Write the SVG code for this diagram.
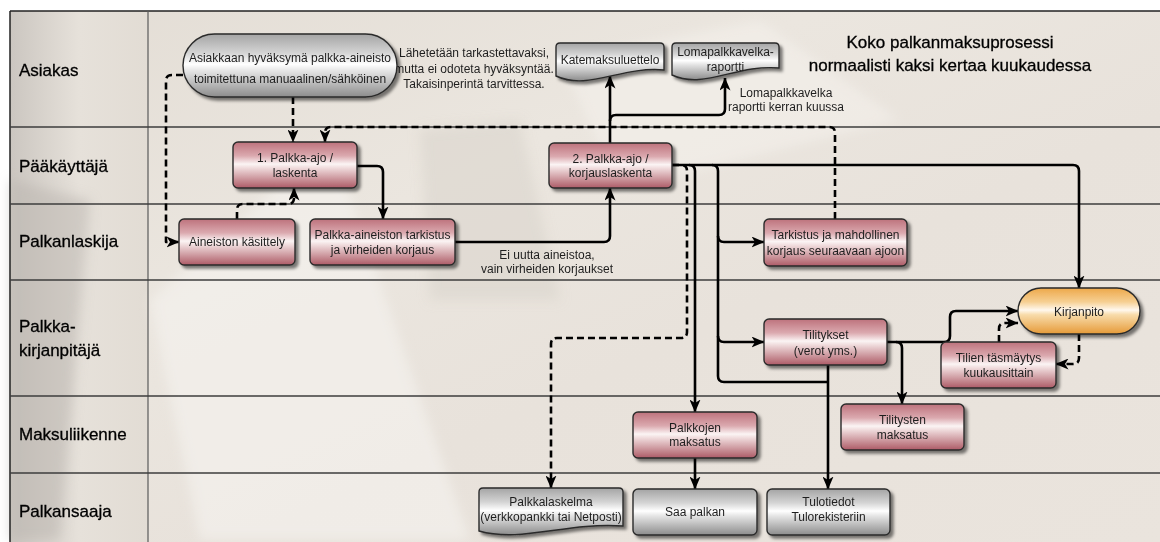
<svg xmlns="http://www.w3.org/2000/svg" width="1160" height="542" viewBox="0 0 1160 542">
  <defs>
    <style>
      .lane-label { font-family: "Liberation Sans", Arial, sans-serif; font-size: 17px; fill: #000; stroke: #000; stroke-width: 0.3; }
      .title { font-family: "Liberation Sans", Arial, sans-serif; font-size: 17px; fill: #000; stroke: #000; stroke-width: 0.3; text-anchor: middle; }
      .t { font-family: "Liberation Sans", Arial, sans-serif; font-size: 12px; fill: #1e1e1e; text-anchor: middle; }
      .note { font-family: "Liberation Sans", Arial, sans-serif; font-size: 12px; fill: #1e1e1e; text-anchor: middle; }
      .pink { fill: url(#pinkG); stroke: #2a2a2a; stroke-width: 1.4; filter: url(#shadow); }
      .grey { fill: url(#greyG); stroke: #2a2a2a; stroke-width: 1.4; filter: url(#shadow); }
      .orange { fill: url(#orangeG); stroke: #2a2a2a; stroke-width: 1.4; filter: url(#shadow); }
      .lane-line { stroke: #3c3c3c; stroke-width: 1.4; }
      .conn { fill: none; stroke: #000; stroke-width: 2.6; stroke-linejoin: round; }
      .dash { stroke-dasharray: 7 4; }
      .arrow { marker-end: url(#arrowHead); }
    </style>
    <linearGradient id="pinkG" x1="0" y1="0" x2="0" y2="1">
      <stop offset="0" stop-color="#bd727c"/>
      <stop offset="0.3" stop-color="#dba9af"/>
      <stop offset="0.48" stop-color="#fbf4f4"/>
      <stop offset="0.56" stop-color="#f0dcdd"/>
      <stop offset="1" stop-color="#ad5b66"/>
    </linearGradient>
    <linearGradient id="greyG" x1="0" y1="0" x2="0" y2="1">
      <stop offset="0" stop-color="#a4a4a4"/>
      <stop offset="0.3" stop-color="#d4d4d4"/>
      <stop offset="0.48" stop-color="#ffffff"/>
      <stop offset="0.58" stop-color="#e6e6e6"/>
      <stop offset="1" stop-color="#8c8c8c"/>
    </linearGradient>
    <linearGradient id="orangeG" x1="0" y1="0" x2="0" y2="1">
      <stop offset="0" stop-color="#eda84a"/>
      <stop offset="0.3" stop-color="#f6cf92"/>
      <stop offset="0.48" stop-color="#fff8ee"/>
      <stop offset="0.58" stop-color="#f8dcab"/>
      <stop offset="1" stop-color="#e69a38"/>
    </linearGradient>
    <linearGradient id="bgG" x1="0" y1="0" x2="1" y2="1">
      <stop offset="0" stop-color="#e3ddd5"/>
      <stop offset="0.35" stop-color="#ebe6df"/>
      <stop offset="0.6" stop-color="#e8e2db"/>
      <stop offset="1" stop-color="#eae4dd"/>
    </linearGradient>
    <linearGradient id="labelG" x1="0" y1="0" x2="1" y2="0">
      <stop offset="0" stop-color="#cbc6c0"/>
      <stop offset="0.5" stop-color="#e6e1da"/>
      <stop offset="1" stop-color="#e2dcd4"/>
    </linearGradient>
    <filter id="shadow" x="-10%" y="-20%" width="125%" height="150%">
      <feDropShadow dx="3" dy="3" stdDeviation="1.6" flood-color="#000" flood-opacity="0.5"/>
    </filter>
    <filter id="soft" filterUnits="userSpaceOnUse" x="0" y="0" width="1160" height="542">
      <feGaussianBlur stdDeviation="6"/>
    </filter>
    <marker id="arrowHead" viewBox="0 0 13 11" refX="12.5" refY="5.5" markerWidth="13" markerHeight="11" markerUnits="userSpaceOnUse" orient="auto">
      <path d="M0,0 L13,5.5 L0,11 L3.5,5.5 Z" fill="#000"/>
    </marker>
  </defs>

  <!-- page background -->
  <rect x="0" y="0" width="1160" height="542" fill="#ffffff"/>
  <rect x="10" y="11" width="1150" height="531" fill="url(#bgG)"/>
  <rect x="10" y="11" width="138" height="531" fill="url(#labelG)"/>

  <!-- soft backdrop shading -->
  <g id="backdrop" filter="url(#soft)">
    <path d="M150,300 L330,140 L470,540 L200,540 Z" fill="#f4f1ec" opacity="0.7"/>
    <path d="M560,60 L760,20 L900,120 L620,190 Z" fill="#f3f0eb" opacity="0.6"/>
    <path d="M10,180 L90,200 L60,540 L10,540 Z" fill="#b9b4ae" opacity="0.5"/>
    <path d="M420,130 L520,120 L560,300 L430,300 Z" fill="#d8d2ca" opacity="0.5"/>
  </g>

  <!-- swimlane grid -->
  <g id="lanes">
    <line x1="10" y1="11" x2="1160" y2="11" stroke="#222" stroke-width="1.5"/>
    <line x1="10" y1="11" x2="10" y2="542" stroke="#222" stroke-width="1.5"/>
    <line x1="148" y1="11" x2="148" y2="542" stroke="#5a5a5a" stroke-width="1.2"/>
    <line class="lane-line" x1="10" y1="127" x2="1160" y2="127"/>
    <line class="lane-line" x1="10" y1="204" x2="1160" y2="204"/>
    <line class="lane-line" x1="10" y1="280" x2="1160" y2="280"/>
    <line class="lane-line" x1="10" y1="396" x2="1160" y2="396"/>
    <line class="lane-line" x1="10" y1="473" x2="1160" y2="473"/>
    <text class="lane-label" x="19" y="76">Asiakas</text>
    <text class="lane-label" x="19" y="172">Pääkäyttäjä</text>
    <text class="lane-label" x="19" y="247">Palkanlaskija</text>
    <text class="lane-label" x="19" y="332">Palkka-</text>
    <text class="lane-label" x="19" y="356">kirjanpitäjä</text>
    <text class="lane-label" x="19" y="440">Maksuliikenne</text>
    <text class="lane-label" x="19" y="517">Palkansaaja</text>
  </g>

  <!-- heading and free notes -->
  <g id="title">
    <text class="title" x="950" y="48">Koko palkanmaksuprosessi</text>
    <text class="title" x="950" y="71">normaalisti kaksi kertaa kuukaudessa</text>
  </g>
  <g id="notes">
    <text class="note" x="474" y="57">Lähetetään tarkastettavaksi,</text>
    <text class="note" x="474" y="72.5">mutta ei odoteta hyväksyntää.</text>
    <text class="note" x="474" y="87.5">Takaisinperintä tarvittessa.</text>
    <text class="note" x="786" y="97">Lomapalkkavelka</text>
    <text class="note" x="786" y="111">raportti kerran kuussa</text>
    <text class="note" x="547" y="259">Ei uutta aineistoa,</text>
    <text class="note" x="547" y="273">vain virheiden korjaukset</text>
  </g>

  <!-- connectors -->
  <g id="connectors">
    <!-- dashed -->
    <path class="conn dash arrow" d="M293,97 V142"/>
    <path class="conn dash arrow" d="M183,75 H172 Q166,75 166,81 V242 H179"/>
    <path class="conn dash arrow" d="M237,219 V210 Q237,204 243,204 H288 Q294,204 294,198 V188"/>
    <path class="conn dash arrow" d="M835,219 V133 Q835,127 829,127 H331 Q325,127 325,133 V142"/>
    <path class="conn dash arrow" d="M672,165 H681 Q687,165 687,171 V332 Q687,338 681,338 H557 Q551,338 551,344 V488"/>
    <path class="conn dash arrow" d="M999,342 V329 Q999,323 1005,323 H1018"/>
    <path class="conn dash arrow" d="M1079,334 V358 Q1079,364 1073,364 H1056"/>
    <!-- solid -->
    <path class="conn arrow" d="M357,166 H377 Q383,166 383,172 V219"/>
    <path class="conn arrow" d="M455,242 H604 Q610,242 610,236 V188"/>
    <path class="conn arrow" d="M610,143 V76"/>
    <path class="conn arrow" d="M610,121 Q610,115 616,115 H719 Q725,115 725,109 V78"/>
    <path class="conn arrow" d="M672,165 H1073 Q1079,165 1079,171 V288"/>
    <path class="conn arrow" d="M689,165 Q695,165 695,171 V412"/>
    <path class="conn" d="M712,165 Q718,165 718,171 V376 Q718,382 724,382 H828"/>
    <path class="conn arrow" d="M718,236 Q718,242 724,242 H764"/>
    <path class="conn arrow" d="M718,336 Q718,342 724,342 H764"/>
    <path class="conn arrow" d="M828,365 V489"/>
    <path class="conn arrow" d="M887,342 H944 Q950,342 950,336 V317 Q950,311 956,311 H1018"/>
    <path class="conn arrow" d="M896,342 Q902,342 902,348 V404"/>
    <path class="conn arrow" d="M695,458 V489"/>
  </g>

  <!-- nodes -->
  <g id="n-aineisto-asiakas">
    <rect class="grey" x="183" y="34" width="214" height="63" rx="31.5"/>
    <text class="t" x="290" y="62">Asiakkaan hyväksymä palkka-aineisto</text>
    <text class="t" x="290" y="83">toimitettuna manuaalinen/sähköinen</text>
  </g>
  <g id="n-katemaksuluettelo">
    <path class="grey" d="M556,47 Q556,43 560,43 H660 Q664,43 664,47 V70 C620.8,66 588.4,91 556,76 Z"/>
    <text class="t" x="610" y="64">Katemaksuluettelo</text>
  </g>
  <g id="n-lomapalkkavelka">
    <path class="grey" d="M672,47 Q672,43 676,43 H775 Q779,43 779,47 V68 C736.2,64 704.1,90 672,75 Z"/>
    <text class="t" x="725.5" y="56">Lomapalkkavelka-</text>
    <text class="t" x="725.5" y="71">raportti</text>
  </g>
  <g id="n-palkka-ajo-1">
    <rect class="pink" x="233" y="142" width="124" height="46" rx="5"/>
    <text class="t" x="295" y="162">1. Palkka-ajo /</text>
    <text class="t" x="295" y="177">laskenta</text>
  </g>
  <g id="n-palkka-ajo-2">
    <rect class="pink" x="549" y="143" width="123" height="45" rx="5"/>
    <text class="t" x="610.5" y="163">2. Palkka-ajo /</text>
    <text class="t" x="610.5" y="177">korjauslaskenta</text>
  </g>
  <g id="n-aineiston-kasittely">
    <rect class="pink" x="179" y="219" width="116" height="46" rx="5"/>
    <text class="t" x="237" y="246">Aineiston käsittely</text>
  </g>
  <g id="n-tarkistus-korjaus">
    <rect class="pink" x="310" y="219" width="145" height="46" rx="5"/>
    <text class="t" x="382.5" y="239">Palkka-aineiston tarkistus</text>
    <text class="t" x="382.5" y="254">ja virheiden korjaus</text>
  </g>
  <g id="n-tarkistus-seuraava">
    <rect class="pink" x="764" y="219" width="143" height="47" rx="5"/>
    <text class="t" x="835.5" y="238.5">Tarkistus ja mahdollinen</text>
    <text class="t" x="835.5" y="254.5">korjaus seuraavaan ajoon</text>
  </g>
  <g id="n-kirjanpito">
    <rect class="orange" x="1018" y="288" width="122" height="46" rx="23"/>
    <text class="t" x="1079" y="316">Kirjanpito</text>
  </g>
  <g id="n-tilitykset">
    <rect class="pink" x="764" y="319" width="123" height="46" rx="5"/>
    <text class="t" x="825.5" y="339">Tilitykset</text>
    <text class="t" x="825.5" y="355">(verot yms.)</text>
  </g>
  <g id="n-tilien-tasmaytys">
    <rect class="pink" x="941" y="342" width="115" height="46" rx="5"/>
    <text class="t" x="998.5" y="362">Tilien täsmäytys</text>
    <text class="t" x="998.5" y="377">kuukausittain</text>
  </g>
  <g id="n-tilitysten-maksatus">
    <rect class="pink" x="841" y="404" width="123" height="46" rx="5"/>
    <text class="t" x="902.5" y="424">Tilitysten</text>
    <text class="t" x="902.5" y="439">maksatus</text>
  </g>
  <g id="n-palkkojen-maksatus">
    <rect class="pink" x="633" y="412" width="124" height="46" rx="5"/>
    <text class="t" x="695" y="432">Palkkojen</text>
    <text class="t" x="695" y="446">maksatus</text>
  </g>
  <g id="n-palkkalaskelma">
    <path class="grey" d="M479,492 Q479,488 483,488 H619 Q623,488 623,492 V526 C565.4,522 522.2,543 479,531 Z"/>
    <text class="t" x="551" y="506">Palkkalaskelma</text>
    <text class="t" x="551" y="521">(verkkopankki tai Netposti)</text>
  </g>
  <g id="n-saa-palkan">
    <rect class="grey" x="633" y="489" width="124" height="46" rx="5"/>
    <text class="t" x="695" y="516">Saa palkan</text>
  </g>
  <g id="n-tulotiedot">
    <rect class="grey" x="767" y="489" width="123" height="46" rx="5"/>
    <text class="t" x="828.5" y="506">Tulotiedot</text>
    <text class="t" x="828.5" y="521">Tulorekisteriin</text>
  </g>
</svg>
